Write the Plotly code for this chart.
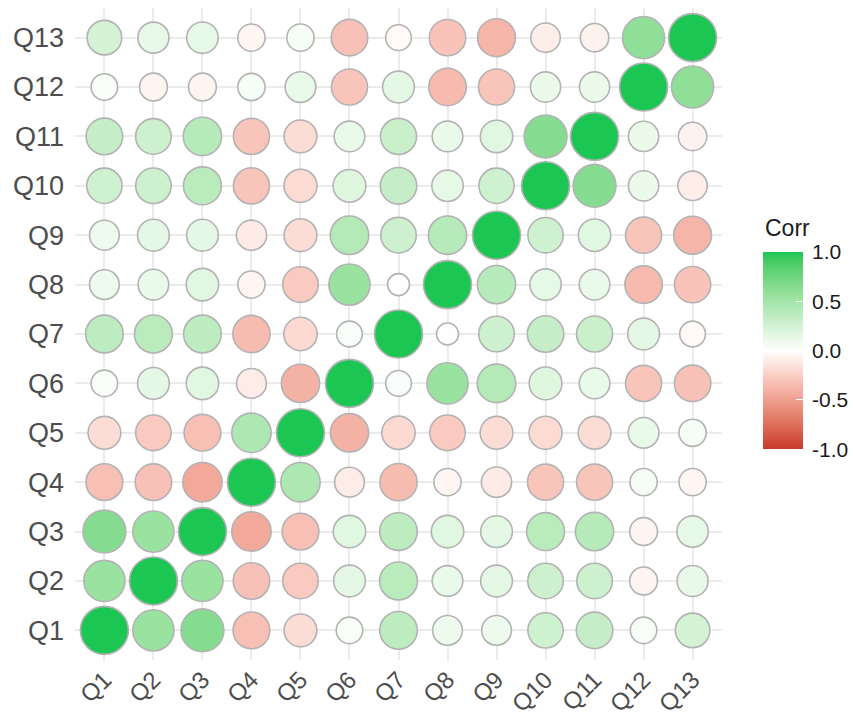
import numpy as np
import plotly.graph_objects as go

# Item labels
labels = [f"Q{i}" for i in range(1, 14)]

# Correlations of each item with every later item (upper triangle)
r_q1 = [0.55, 0.65, -0.33, -0.18, 0.04, 0.37, 0.10, 0.10, 0.27, 0.32, 0.04, 0.24]
r_q2 = [0.55, -0.32, -0.28, 0.15, 0.38, 0.12, 0.15, 0.28, 0.28, -0.06, 0.13]
r_q3 = [-0.45, -0.33, 0.17, 0.37, 0.17, 0.15, 0.38, 0.40, -0.06, 0.14]
r_q4 = [0.45, -0.10, -0.35, -0.05, -0.11, -0.30, -0.30, 0.05, -0.05]
r_q5 = [-0.40, -0.20, -0.28, -0.18, -0.19, -0.18, 0.12, 0.05]
r_q6 = [0.03, 0.55, 0.41, 0.18, 0.12, -0.30, -0.32]
r_q7 = [0.01, 0.28, 0.32, 0.30, 0.15, -0.03]
r_q8 = [0.40, 0.14, 0.12, -0.36, -0.31]
r_q9 = [0.27, 0.17, -0.30, -0.38]
r_q10 = [0.65, 0.11, -0.09]
r_q11 = [0.11, -0.07]
r_q12 = [0.60]

# Colour bar ticks
cbar_ticks = [-1.0, -0.5, 0.0, 0.5, 1.0]
cbar_labels = ["-1.0", "-0.5", "0.0", "0.5", "1.0"]

upper = [r_q1, r_q2, r_q3, r_q4, r_q5, r_q6, r_q7, r_q8, r_q9, r_q10, r_q11, r_q12]

n = len(labels)
corr = np.eye(n)
for i, row in enumerate(upper):
    for k, v in enumerate(row):
        j = i + 1 + k
        corr[i, j] = v
        corr[j, i] = v

# ---- diverging colour scale interpolated in CIELAB (low -> mid -> high)
LOW, MID, HIGH = "#C8392B", "#FFFFFF", "#1BC653"


def _hex_rgb(h):
    h = h.lstrip("#")
    return np.array([int(h[k:k + 2], 16) for k in (0, 2, 4)]) / 255.0


_M = np.array([[0.4124, 0.3576, 0.1805],
               [0.2126, 0.7152, 0.0722],
               [0.0193, 0.1192, 0.9505]])
_WHITE = _M @ np.ones(3)


def _to_lab(h):
    c = _hex_rgb(h)
    lin = np.where(c <= 0.04045, c / 12.92, ((c + 0.055) / 1.055) ** 2.4)
    xyz = (_M @ lin) / _WHITE
    f = np.where(xyz > (6 / 29) ** 3, np.cbrt(xyz), xyz / (3 * (6 / 29) ** 2) + 4 / 29)
    return np.array([116 * f[1] - 16, 500 * (f[0] - f[1]), 200 * (f[1] - f[2])])


def _from_lab(lab):
    L, a, b = lab
    fy = (L + 16) / 116
    fx = fy + a / 500
    fz = fy - b / 200
    f = np.array([fx, fy, fz])
    xyz = np.where(f > 6 / 29, f ** 3, 3 * (6 / 29) ** 2 * (f - 4 / 29)) * _WHITE
    lin = np.linalg.solve(_M, xyz)
    lin = np.clip(lin, 0, 1)
    c = np.where(lin <= 0.0031308, 12.92 * lin, 1.055 * lin ** (1 / 2.4) - 0.055)
    r, g, bb = (np.clip(c, 0, 1) * 255).round().astype(int)
    return f"rgb({r},{g},{bb})"


lab_lo, lab_mid, lab_hi = _to_lab(LOW), _to_lab(MID), _to_lab(HIGH)
colorscale = []
steps = 20
for s in range(steps + 1):
    t = s / steps
    if t <= 0.5:
        u = t / 0.5
        lab = lab_lo + (lab_mid - lab_lo) * u
    else:
        u = (t - 0.5) / 0.5
        lab = lab_mid + (lab_hi - lab_mid) * u
    colorscale.append([t, _from_lab(lab)])

# ---- points (one circle per cell)
xs, ys, vals = [], [], []
for i in range(n):
    for j in range(n):
        xs.append(j)
        ys.append(i)
        vals.append(corr[i, j])
vals = np.array(vals)
absv = np.abs(vals)
lo = absv.min()
D_MIN, D_MAX = 22, 48
sizes = D_MIN + (D_MAX - D_MIN) * np.sqrt((absv - lo) / (absv.max() - lo))

FONT = "Liberation Sans, Arial, Helvetica, sans-serif"

# plot-area geometry (pixels)
W, H = 853, 716
ML, MR, MT, MB = 75, 131, 8, 56
plot_w = W - ML - MR
plot_h = H - MT - MB
BAR_LEFT, BAR_W = 763, 40
BAR_TOP, BAR_BOTTOM = 252, 449


def px_x(x):
    return (x - ML) / plot_w


def px_y(y):
    return (H - MB - y) / plot_h


fig = go.Figure(
    go.Scatter(
        x=xs,
        y=ys,
        mode="markers",
        marker=dict(
            size=sizes,
            color=vals,
            colorscale=colorscale,
            cmin=-1,
            cmax=1,
            line=dict(color="#B3B3B3", width=1.6),
            opacity=1,
            colorbar=dict(
                x=px_x(BAR_LEFT),
                xanchor="left",
                y=px_y(BAR_BOTTOM),
                yanchor="bottom",
                len=BAR_BOTTOM - BAR_TOP,
                lenmode="pixels",
                thickness=BAR_W,
                thicknessmode="pixels",
                outlinewidth=0,
                tickvals=cbar_ticks,
                ticks="inside",
                ticklen=7,
                tickcolor="white",
                tickwidth=1,
                showticklabels=False,
                ypad=0,
                xpad=0,
            ),
        ),
        hoverinfo="skip",
        showlegend=False,
    )
)

# colour bar title and tick labels, placed beside the bar on its own -1..1 scale
fig.add_annotation(
    text="Corr", x=px_x(BAR_LEFT), y=px_y(228), xref="paper", yref="paper",
    xanchor="left", yanchor="middle", showarrow=False,
    font=dict(size=23, color="#1A1A1A", family=FONT),
)
for v, t in zip(cbar_ticks, cbar_labels):
    ypix = BAR_BOTTOM - (v + 1) / 2 * (BAR_BOTTOM - BAR_TOP)
    fig.add_annotation(
        text=t, x=px_x(BAR_LEFT + BAR_W + 7), y=px_y(ypix), xref="paper", yref="paper",
        xanchor="left", yanchor="middle", showarrow=False,
        font=dict(size=21, color="#1A1A1A", family=FONT),
    )

axis_common = dict(
    tickmode="array",
    tickvals=list(range(n)),
    ticktext=labels,
    range=[-0.6, n - 1 + 0.6],
    showgrid=True,
    gridcolor="#EBEBEB",
    gridwidth=2,
    zeroline=False,
    showline=False,
    ticks="",
    fixedrange=True,
    automargin=False,
)

fig.update_layout(
    width=W,
    height=H,
    margin=dict(l=ML, r=MR, t=MT, b=MB),
    paper_bgcolor="white",
    plot_bgcolor="white",
    xaxis=dict(**axis_common, tickangle=-45, ticklabelstandoff=0,
               tickfont=dict(size=24, color="#4D4D4D", family=FONT)),
    yaxis=dict(**axis_common, ticklabelstandoff=10,
               tickfont=dict(size=27, color="#4D4D4D", family=FONT)),
    font=dict(family=FONT),
)

fig.write_html("out.html")
